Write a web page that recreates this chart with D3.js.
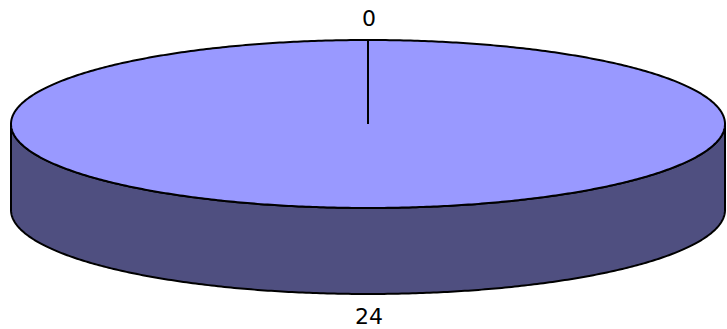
<!DOCTYPE html>
<html>
<head>
<meta charset="utf-8">
<script src="https://cdn.jsdelivr.net/npm/d3@7"></script>
<style>
  body { margin: 0; background: white; }
  text { font-family: "DejaVu Sans", Verdana, sans-serif; }
</style>
</head>
<body>
<div id="chart"></div>
<script>
const labels = ["0", "24"];
const values = [0, 24];

const width = 727, height = 329;
const cx = 368, cy = 124, rx = 357, ry = 84, depth = 86;
const topColor = "#9999ff", sideColor = "#4f4f80";

const svg = d3.select("#chart").append("svg")
  .attr("width", width).attr("height", height)
  .attr("viewBox", [0, 0, width, height]);

const pie = d3.pie().sort(null)(values);

// elliptical projection of an angle (0 = top, clockwise)
const px = a => cx + rx * Math.sin(a);
const py = a => cy - ry * Math.cos(a);

const arcPoints = (a0, a1, dy) => {
  const n = Math.max(2, Math.ceil((a1 - a0) / 0.01));
  return d3.range(n + 1).map(i => {
    const a = a0 + (a1 - a0) * i / n;
    return [px(a), py(a) + dy];
  });
};

const line = d3.line();

// side walls: visible part of each slice is between PI/2 and 3PI/2
pie.forEach(d => {
  const a0 = Math.max(d.startAngle, Math.PI / 2);
  const a1 = Math.min(d.endAngle, 3 * Math.PI / 2);
  if (a1 <= a0) return;
  const top = arcPoints(a0, a1, 0);
  const bottom = arcPoints(a0, a1, depth).reverse();
  svg.append("path")
    .attr("d", line(top.concat(bottom)) + "Z")
    .attr("fill", sideColor)
    .attr("stroke", "#000")
    .attr("stroke-width", 2)
    .attr("stroke-linejoin", "round");
});

// top faces
pie.forEach(d => {
  if (d.endAngle - d.startAngle <= 0) return;
  const pts = arcPoints(d.startAngle, d.endAngle, 0);
  const full = d.endAngle - d.startAngle >= 2 * Math.PI - 1e-6;
  const dPath = full ? line(pts) + "Z" : line([[cx, cy]].concat(pts)) + "Z";
  svg.append("path")
    .attr("d", dPath)
    .attr("fill", topColor)
    .attr("stroke", "#000")
    .attr("stroke-width", 2)
    .attr("stroke-linejoin", "round");
});

// slice boundaries (radial lines on the top face)
pie.forEach(d => {
  if (d.endAngle - d.startAngle >= 2 * Math.PI - 1e-6) return;
  svg.append("line")
    .attr("x1", cx).attr("y1", cy)
    .attr("x2", px(d.startAngle)).attr("y2", py(d.startAngle))
    .attr("stroke", "#000").attr("stroke-width", 2);
});

// labels
pie.forEach((d, i) => {
  const a = (d.startAngle + d.endAngle) / 2;
  const front = Math.cos(a) < 0;
  const lx = cx + (rx + 8) * Math.sin(a);
  const ly = front ? cy - (ry + 8) * Math.cos(a) + depth + 22
                   : cy - (ry + 14) * Math.cos(a);
  svg.append("text")
    .attr("x", lx + 1).attr("y", ly)
    .attr("text-anchor", "middle")
    .attr("font-size", 22)
    .attr("fill", "#000")
    .text(labels[i]);
});
</script>
</body>
</html>
